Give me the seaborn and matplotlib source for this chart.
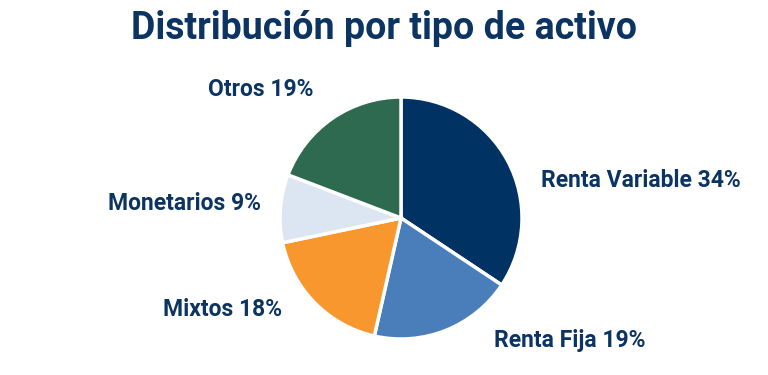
import matplotlib
matplotlib.use("Agg")
import matplotlib.pyplot as plt
import seaborn as sns

sns.set_theme(style="white")
plt.rcParams["font.family"] = ["Roboto", "Liberation Sans", "DejaVu Sans"]

# data
categories = ["Renta Variable", "Renta Fija", "Mixtos", "Monetarios", "Otros"]
shares = [34, 19, 18, 9, 19]
colors = ["#003263", "#4a7ebb", "#f9972f", "#dce6f2", "#2e6a50"]

# label anchors (axes data units, pie radius = 1) and alignment
label_pos = [(1.16, 0.31, "left"), (0.77, -1.01, "left"), (-0.98, -0.76, "right"),
             (-1.16, 0.12, "right"), (-0.72, 1.06, "right")]

navy = "#0b3463"

fig = plt.figure(figsize=(7.68, 3.75), dpi=100)
ax = fig.add_axes([280 / 768, 36 / 375, 242 / 768, 242 / 375])
ax.pie(shares, colors=sns.color_palette(colors), startangle=90, counterclock=False,
       wedgeprops=dict(edgecolor="white", linewidth=2.5))
ax.set_xlim(-1, 1)
ax.set_ylim(-1, 1)

for cat, val, (x, y, ha) in zip(categories, shares, label_pos):
    ax.text(x, y, f"{cat} {val}%", ha=ha, va="center", fontsize=16.5,
            fontweight="bold", color=navy, clip_on=False)

fig.text(0.5, 0.925, "Distribución por tipo de activo", ha="center", va="center",
         fontsize=27, fontweight="bold", color=navy)

fig.savefig("out.png", dpi=100)
plt.close(fig)
